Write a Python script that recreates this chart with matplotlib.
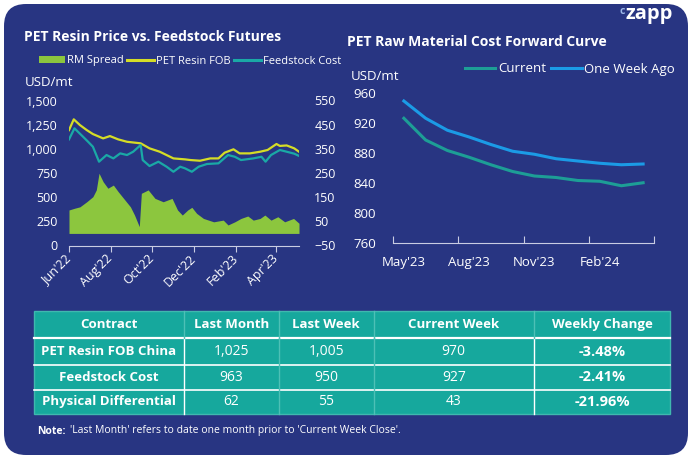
import matplotlib
matplotlib.use('Agg')
import matplotlib.pyplot as plt
import matplotlib.dates as mdates
from matplotlib.patches import FancyBboxPatch, Rectangle
from matplotlib.lines import Line2D
from matplotlib.ticker import FuncFormatter
import pandas as pd

plt.rcParams['font.family'] = ['Open Sans', 'DejaVu Sans']

# ---- data: PET resin vs feedstock (USD/mt) ----
fob_dates = ['2022-06-01', '2022-06-08', '2022-06-17', '2022-06-27', '2022-07-06',
             '2022-07-21', '2022-07-31', '2022-08-12', '2022-08-25', '2022-09-14',
             '2022-09-27', '2022-10-12', '2022-11-01', '2022-11-18', '2022-11-26',
             '2022-12-10', '2022-12-25', '2023-01-06', '2023-01-15', '2023-01-28',
             '2023-02-06', '2023-02-21', '2023-03-08', '2023-03-19', '2023-04-01',
             '2023-04-06', '2023-04-16', '2023-04-27', '2023-05-04']
fob_values = [1194, 1305, 1246, 1194, 1153, 1108, 1132, 1098, 1073, 1057,
              1005, 970, 901, 891, 884, 877, 901, 901, 960, 995,
              953, 953, 970, 988, 1050, 1030, 1035, 1005, 970]

feed_dates = ['2022-06-01', '2022-06-09', '2022-06-19', '2022-06-29', '2022-07-06',
              '2022-07-15', '2022-07-26', '2022-08-05', '2022-08-15', '2022-08-25',
              '2022-09-03', '2022-09-14', '2022-09-17', '2022-09-27', '2022-10-10',
              '2022-10-22', '2022-11-01', '2022-11-11', '2022-11-18', '2022-11-28',
              '2022-12-08', '2022-12-20', '2023-01-06', '2023-01-20', '2023-01-30',
              '2023-02-08', '2023-02-26', '2023-03-10', '2023-03-16', '2023-03-24',
              '2023-04-06', '2023-04-16', '2023-04-27', '2023-05-04']
feed_values = [1098, 1212, 1143, 1073, 1022, 867, 936, 901, 953, 936,
               970, 1039, 884, 822, 867, 815, 763, 815, 798, 763,
               815, 843, 850, 936, 918, 884, 901, 918, 867, 936,
               988, 970, 950, 927]

spread_dates = ['2022-06-01', '2022-06-09', '2022-06-17', '2022-06-27', '2022-07-06',
                '2022-07-11', '2022-07-15', '2022-07-21', '2022-07-28', '2022-08-05',
                '2022-08-12', '2022-08-20', '2022-08-30', '2022-09-05', '2022-09-12',
                '2022-09-15', '2022-09-25', '2022-10-05', '2022-10-17', '2022-10-30',
                '2022-11-07', '2022-11-14', '2022-11-22', '2022-11-28', '2022-12-05',
                '2022-12-15', '2022-12-30', '2023-01-13', '2023-01-20', '2023-01-30',
                '2023-02-08', '2023-02-18', '2023-02-26', '2023-03-08', '2023-03-15',
                '2023-03-24', '2023-04-03', '2023-04-13', '2023-04-26', '2023-05-04']
spread_values = [97, 104, 110, 131, 152, 180, 249, 214, 187, 200,
                 173, 145, 110, 76, 28, 166, 180, 145, 131, 145,
                 97, 76, 97, 108, 83, 62, 48, 55, 35, 48,
                 62, 72, 55, 62, 76, 55, 69, 48, 62, 42]

# ---- data: forward curve ----
curve_months = ["May'23", "Jun'23", "Jul'23", "Aug'23", "Sep'23", "Oct'23",
                "Nov'23", "Dec'23", "Jan'24", "Feb'24", "Mar'24", "Apr'24"]
current_curve = [927, 898, 884, 875, 865, 856, 850, 848, 844, 843, 837, 841]
week_ago_curve = [950, 927, 911, 902, 892, 883, 879, 873, 870, 867, 865, 866]

# ---- data: table ----
table_header = ['Contract', 'Last Month', 'Last Week', 'Current Week', 'Weekly Change']
table_rows = [
    ['PET Resin FOB China', '1,025', '1,005', '970', '-3.48%'],
    ['Feedstock Cost', '963', '950', '927', '-2.41%'],
    ['Physical Differential', '62', '55', '43', '-21.96%'],
]

NAVY = '#283582'
YELLOW = '#D5DD26'
FEED = '#1AA9A6'
GREEN = '#8CC63E'
TEAL = '#16A89D'
CURRENT = '#1D9E96'
WEEKAGO = '#1B9BE6'
AXIS = '#C9CCE3'

W, H = 692, 459


def box(x0, y0, x1, y1):
    return [x0 / W, 1 - y1 / H, (x1 - x0) / W, (y1 - y0) / H]


fig = plt.figure(figsize=(W / 100, H / 100), dpi=100)
fig.patch.set_facecolor('white')

# background layer in pixel coordinates
bg = fig.add_axes([0, 0, 1, 1])
bg.set_xlim(0, W)
bg.set_ylim(H, 0)
bg.axis('off')
bg.add_patch(FancyBboxPatch((4, 4), 684, 451, boxstyle='round,pad=0,rounding_size=22',
                            facecolor=NAVY, edgecolor='none'))

bg.text(24, 37, 'PET Resin Price vs. Feedstock Futures', color='white',
        fontsize=10, fontweight='bold', va='center')
bg.text(347, 42, 'PET Raw Material Cost Forward Curve', color='white',
        fontsize=10, fontweight='bold', va='center')
bg.text(25, 83, 'USD/mt', color='white', fontsize=9.5, va='center')
bg.text(351, 76, 'USD/mt', color='white', fontsize=9.5, va='center')
bg.text(625, 14, 'zapp', color='white', fontsize=14.5, fontweight='bold', va='center')
bg.text(619, 11, 'c', color='#9DB8E8', fontsize=7.5, fontweight='bold', va='center')

# table
x_cols = [34, 184, 279, 373.5, 534, 670]
y_rows = [311, 338, 365, 389.5, 414]
bg.add_patch(Rectangle((x_cols[0], y_rows[0]), x_cols[-1] - x_cols[0], y_rows[-1] - y_rows[0],
                       facecolor=TEAL, edgecolor='#3FB8AE', lw=1))
for y in y_rows[1:-1]:
    bg.plot([x_cols[0], x_cols[-1]], [y, y], color='white', lw=1.6 if y == y_rows[1] else 1.2)
for x in x_cols[1:-1]:
    strong = x in (184, 534)
    bg.plot([x, x], [y_rows[1], y_rows[-1]], color='white' if strong else '#4DC0B6', lw=1)
    bg.plot([x, x], [y_rows[0], y_rows[1]], color='#4DC0B6', lw=1)

for j, label in enumerate(table_header):
    xc = (x_cols[j] + x_cols[j + 1]) / 2
    bg.text(xc, (y_rows[0] + y_rows[1]) / 2, label, color='white', fontsize=9.5,
            fontweight='bold', ha='center', va='center')
for i, row in enumerate(table_rows):
    yc = (y_rows[i + 1] + y_rows[i + 2]) / 2
    for j, cell in enumerate(row):
        xc = (x_cols[j] + x_cols[j + 1]) / 2
        if j == 0:
            size, weight = 9.5, 'bold'
        elif j == 4:
            size, weight = 10.5, 'bold'
        else:
            size, weight = 10, 'normal'
        bg.text(xc, yc, cell, color='white', fontsize=size, fontweight=weight,
                ha='center', va='center')

bg.text(37, 431, 'Note:', color='white', fontsize=7.5, fontweight='bold', va='center')
bg.text(70, 431, "'Last Month' refers to date one month prior to 'Current Week Close'.",
        color='white', fontsize=7.5, va='center')

# ---- left chart ----
ax = fig.add_axes(box(69, 100.5, 299, 245.5))
ax.set_facecolor('none')
ax2 = ax.twinx()

fob = pd.Series(fob_values, index=pd.to_datetime(fob_dates))
feed = pd.Series(feed_values, index=pd.to_datetime(feed_dates))
spread = pd.Series(spread_values, index=pd.to_datetime(spread_dates))

ax2.fill_between(spread.index, 0, spread.values, color=GREEN, lw=0, zorder=1)
ax.plot(fob.index, fob.values, color=YELLOW, lw=1.6, zorder=3)
ax.plot(feed.index, feed.values, color=FEED, lw=1.6, zorder=3)
ax.set_zorder(ax2.get_zorder() + 1)
ax.patch.set_visible(False)

ax.set_xlim(pd.Timestamp('2022-06-01'), pd.Timestamp('2023-05-04'))
ax.set_ylim(0, 1500)
ax2.set_ylim(-50, 550)
ax.set_yticks(range(0, 1501, 250))
ax2.set_yticks(range(-50, 551, 100))
ax.yaxis.set_major_formatter(FuncFormatter(lambda v, p: f'{int(v):,}'))
ax.set_xticks(pd.to_datetime(['2022-06-01', '2022-08-01', '2022-10-01',
                              '2022-12-01', '2023-02-01', '2023-04-01']))
ax.xaxis.set_major_formatter(mdates.DateFormatter("%b'%y"))

for a in (ax, ax2):
    for s in a.spines.values():
        s.set_visible(False)
ax.spines['bottom'].set_visible(True)
ax.spines['bottom'].set_color(AXIS)
ax.tick_params(axis='y', length=0, colors='white', labelsize=9, pad=8)
ax2.tick_params(axis='y', length=0, colors='white', labelsize=9, pad=11)
ax.tick_params(axis='x', direction='out', length=4, color=AXIS, labelcolor='white',
               labelsize=9, pad=4)
for lbl in ax2.get_yticklabels():
    lbl.set_horizontalalignment('left')
for lbl in ax.get_xticklabels():
    lbl.set_rotation(45)
    lbl.set_ha('right')
    lbl.set_va('center')
    lbl.set_rotation_mode('anchor')

handles = [Rectangle((0, 0), 1, 1, facecolor=GREEN),
           Line2D([], [], color=YELLOW, lw=2.2),
           Line2D([], [], color=FEED, lw=2.2)]
fig.legend(handles, ['RM Spread', 'PET Resin FOB', 'Feedstock Cost'], ncol=3,
           loc='center', bbox_to_anchor=(190 / W, 1 - 61 / H), frameon=False,
           fontsize=8, labelcolor='white', handlelength=2.4, handleheight=0.6,
           handletextpad=0.2, columnspacing=0.3, borderpad=0)

# ---- right chart ----
bx = fig.add_axes(box(393, 93.5, 654, 243.5))
bx.set_facecolor('none')
pos = list(range(len(curve_months)))
bx.plot(pos, current_curve, color=CURRENT, lw=2.2)
bx.plot(pos, week_ago_curve, color=WEEKAGO, lw=2.2)
bx.set_xlim(-0.5, len(curve_months) - 0.5)
bx.set_ylim(760, 960)
bx.set_yticks(range(760, 961, 40))
bx.set_xticks([-0.5, 2.5, 5.5, 8.5, 11.5])
bx.set_xticklabels([])
bx.set_xticks(pos[::3], minor=True)
bx.set_xticklabels(curve_months[::3], minor=True)
for s in bx.spines.values():
    s.set_visible(False)
bx.spines['bottom'].set_visible(True)
bx.spines['bottom'].set_color(AXIS)
bx.tick_params(axis='y', length=0, colors='white', labelsize=9.5, pad=12)
bx.tick_params(axis='x', which='major', direction='in', length=5, color=AXIS)
bx.tick_params(axis='x', which='minor', length=0, labelcolor='white', labelsize=9.5, pad=9)

handles2 = [Line2D([], [], color=CURRENT, lw=2.2), Line2D([], [], color=WEEKAGO, lw=2.2)]
fig.legend(handles2, ['Current', 'One Week Ago'], ncol=2, loc='center',
           bbox_to_anchor=(570 / W, 1 - 69 / H), frameon=False, fontsize=9.5,
           labelcolor='white', handlelength=2.3, handletextpad=0.2,
           columnspacing=0.4, borderpad=0)

fig.savefig('out.png', dpi=100, facecolor='white')
